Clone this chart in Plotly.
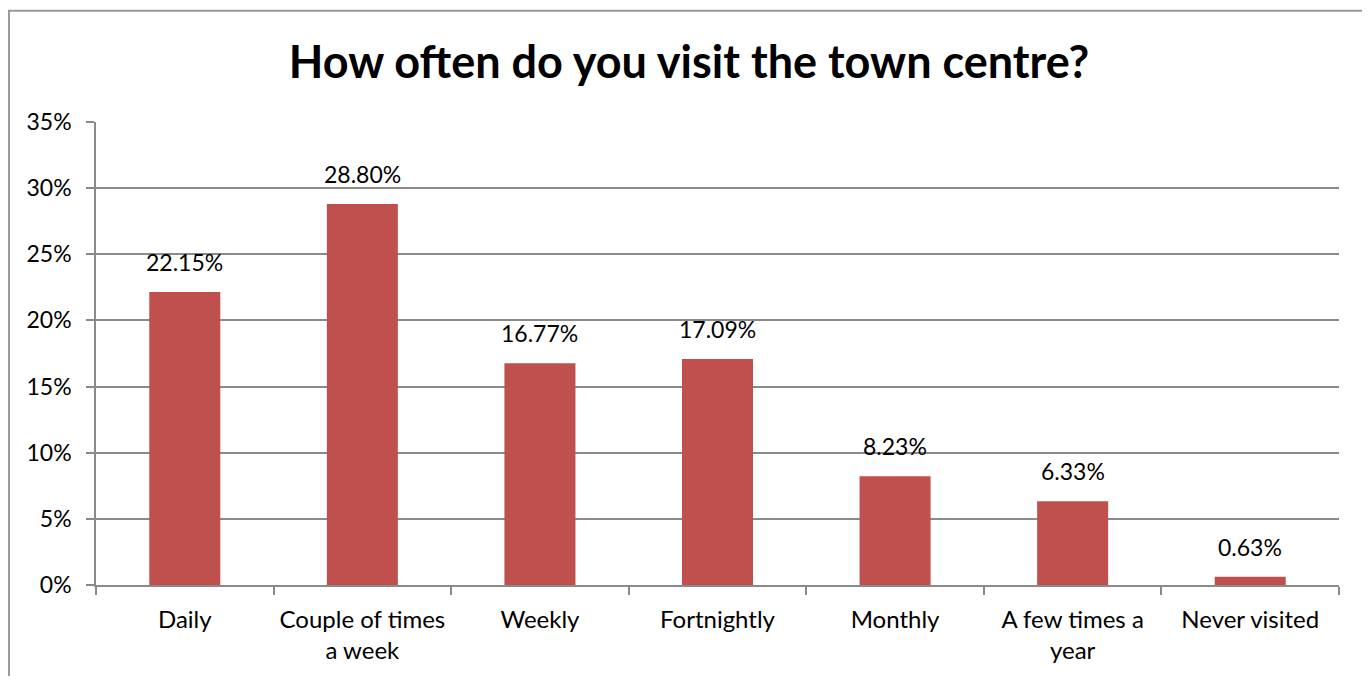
import plotly.graph_objects as go

categories = ["Daily", "Couple of times<br>a week", "Weekly", "Fortnightly",
              "Monthly", "A few times a<br>year", "Never visited"]
values = [0.2215, 0.2880, 0.1677, 0.1709, 0.0823, 0.0633, 0.0063]
labels = ["22.15%", "28.80%", "16.77%", "17.09%", "8.23%", "6.33%", "0.63%"]

font_family = "Lato, Open Sans, sans-serif"
grey = "#8a8a8a"

fig = go.Figure()
fig.add_trace(
    go.Bar(
        x=categories,
        y=values,
        marker=dict(color="#C0504D", line=dict(width=0)),
        width=0.4,
    )
)

# value labels sit a little above each bar, like the original
for cat, val, lab in zip(categories, values, labels):
    fig.add_annotation(
        x=cat, y=val, text=lab, showarrow=False,
        yanchor="bottom", yshift=14,
        font=dict(size=23, color="black", family=font_family),
    )

fig.update_layout(
    width=1362,
    height=668,
    margin=dict(l=88, r=31, t=114, b=86),
    paper_bgcolor="white",
    plot_bgcolor="white",
    showlegend=False,
    font=dict(family=font_family, size=23, color="black"),
    title=dict(
        text="<b>How often do you visit the town centre?</b>",
        x=0.5, xanchor="center",
        y=0.919, yanchor="middle",
        font=dict(size=45, family=font_family, color="black"),
    ),
    shapes=[dict(
        type="rect", xref="paper", yref="paper",
        x0=-0.0700, x1=1.0225, y0=-0.3, y1=1.2403,
        line=dict(color="#9a9a9a", width=2),
    )],
)

fig.update_yaxes(
    range=[0, 0.35],
    dtick=0.05,
    tickformat=".0%",
    showgrid=True,
    gridcolor=grey,
    gridwidth=1.5,
    showline=True,
    linecolor=grey,
    linewidth=1.5,
    ticks="outside",
    ticklen=8,
    tickcolor=grey,
    tickwidth=1.5,
    ticklabelstandoff=10,
    zeroline=False,
    tickfont=dict(size=23),
)

fig.update_xaxes(
    showline=True,
    linecolor=grey,
    linewidth=1.5,
    ticks="outside",
    tickson="boundaries",
    ticklen=8,
    tickcolor=grey,
    tickwidth=1.5,
    ticklabelstandoff=12,
    tickfont=dict(size=24),
)

fig.write_html("out.html")
